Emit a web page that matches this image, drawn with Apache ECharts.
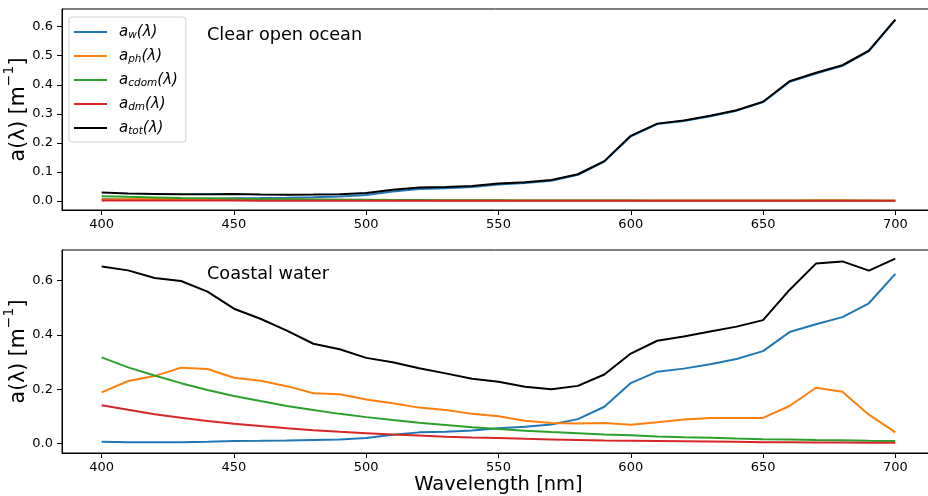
<!DOCTYPE html>
<html>
<head>
<meta charset="utf-8">
<style>
  html, body { margin: 0; padding: 0; background: #fff; }
  #chart { width: 928px; height: 496px; }
</style>
<script src="https://cdn.jsdelivr.net/npm/echarts@6/dist/echarts.min.js"></script>
</head>
<body>
<div id="chart"></div>
<script>
// Wavelength grid (nm)
const wavelengths = [400, 410, 420, 430, 440, 450, 460, 470, 480, 490, 500, 510, 520, 530, 540, 550,
  560, 570, 580, 590, 600, 610, 620, 630, 640, 650, 660, 670, 680, 690, 700];

// Pure water absorption (m^-1), shared by both water types
const aWater = [0.0066, 0.0047, 0.0045, 0.0050, 0.0064, 0.0092, 0.0098, 0.0106, 0.0127, 0.0150, 0.0204,
  0.0325, 0.0409, 0.0434, 0.0474, 0.0565, 0.0619, 0.0695, 0.0896, 0.1351, 0.2224, 0.2644, 0.2755,
  0.2916, 0.3108, 0.3400, 0.4100, 0.4390, 0.4650, 0.5160, 0.6240];

// Clear open ocean components
const oceanPh = [0.005, 0.0055, 0.006, 0.0062, 0.0064, 0.0058, 0.0052, 0.0046, 0.004, 0.0034, 0.0028,
  0.0022, 0.0018, 0.0015, 0.0013, 0.0011, 0.0009, 0.0008, 0.0008, 0.0008, 0.0008, 0.0009, 0.001,
  0.001, 0.001, 0.001, 0.0015, 0.0022, 0.002, 0.0011, 0.0004];
const oceanCdom = [0.016, 0.0138, 0.0119, 0.0102, 0.0088, 0.0076, 0.0065, 0.0056, 0.0048, 0.0042, 0.0036,
  0.0031, 0.0027, 0.0023, 0.002, 0.0017, 0.0015, 0.0013, 0.0011, 0.0009, 0.0008, 0.0007, 0.0006,
  0.0005, 0.0004, 0.0004, 0.0003, 0.0003, 0.0002, 0.0002, 0.0002];
const oceanDm = [0.0015, 0.0013, 0.0011, 0.001, 0.0009, 0.0008, 0.0007, 0.0006, 0.0005, 0.0004, 0.0004,
  0.0003, 0.0003, 0.0003, 0.0002, 0.0002, 0.0002, 0.0002, 0.0001, 0.0001, 0.0001, 0.0001, 0.0001,
  0.0001, 0.0001, 0.0001, 0.0001, 0.0, 0.0, 0.0, 0.0];
const oceanTot = [0.029, 0.025, 0.024, 0.0224, 0.0225, 0.0234, 0.0222, 0.0214, 0.022, 0.023, 0.027,
  0.0381, 0.0457, 0.0475, 0.0509, 0.0595, 0.0645, 0.0718, 0.0916, 0.1369, 0.2241, 0.2661, 0.2772,
  0.2932, 0.3123, 0.3415, 0.4119, 0.4415, 0.4672, 0.5173, 0.6246];

// Coastal water components
const coastPh = [0.188, 0.230, 0.248, 0.279, 0.274, 0.242, 0.231, 0.211, 0.185, 0.181, 0.162, 0.148,
  0.132, 0.123, 0.109, 0.100, 0.084, 0.075, 0.074, 0.075, 0.069, 0.078, 0.088, 0.094, 0.094, 0.094,
  0.138, 0.205, 0.190, 0.106, 0.041];
const coastCdom = [0.317, 0.280, 0.250, 0.222, 0.197, 0.175, 0.156, 0.138, 0.123, 0.109, 0.097, 0.086,
  0.076, 0.068, 0.060, 0.053, 0.047, 0.042, 0.038, 0.033, 0.030, 0.026, 0.023, 0.021, 0.018, 0.016,
  0.015, 0.013, 0.012, 0.010, 0.009];
const coastDm = [0.141, 0.124, 0.108, 0.095, 0.083, 0.073, 0.064, 0.056, 0.049, 0.043, 0.038, 0.033,
  0.029, 0.025, 0.022, 0.020, 0.017, 0.015, 0.013, 0.011, 0.010, 0.009, 0.008, 0.007, 0.006, 0.005,
  0.005, 0.004, 0.004, 0.003, 0.003];
const coastTot = [0.651, 0.637, 0.609, 0.598, 0.559, 0.496, 0.459, 0.415, 0.367, 0.347, 0.315, 0.299,
  0.277, 0.258, 0.238, 0.227, 0.209, 0.200, 0.212, 0.254, 0.331, 0.378, 0.394, 0.412, 0.430, 0.454,
  0.565, 0.662, 0.670, 0.636, 0.680];

// Axis tick labels
const xTicks = [400, 450, 500, 550, 600, 650, 700];
const yTicksOcean = [0.0, 0.1, 0.2, 0.3, 0.4, 0.5, 0.6];
const yTicksCoast = [0.0, 0.2, 0.4, 0.6];

const seriesNames = ['a_w', 'a_ph', 'a_cdom', 'a_dm', 'a_tot'];
const subscripts = { a_w: 'w', a_ph: 'ph', a_cdom: 'cdom', a_dm: 'dm', a_tot: 'tot' };
const colors = ['#1f77b4', '#ff7f0e', '#2ca02c', '#d62728', '#000000'];

const FONT = 'DejaVu Sans';
const pairs = arr => wavelengths.map((w, i) => [w, arr[i]]);

function lineSeries(name, data, idx, color) {
  return {
    name: name,
    type: 'line',
    xAxisIndex: idx,
    yAxisIndex: idx,
    data: pairs(data),
    symbol: 'none',
    lineStyle: { color: color, width: 2 },
    itemStyle: { color: color },
    emphasis: { disabled: true },
    animation: false,
    z: 2
  };
}

const oceanSets = [aWater, oceanPh, oceanCdom, oceanDm, oceanTot];
const coastSets = [aWater, coastPh, coastCdom, coastDm, coastTot];

const series = [];
oceanSets.forEach((d, i) => series.push(lineSeries(seriesNames[i], d, 0, colors[i])));
coastSets.forEach((d, i) => series.push(lineSeries(seriesNames[i], d, 1, colors[i])));

function xAxis(idx, named) {
  return {
    type: 'value', gridIndex: idx, min: 385, max: 715,
    splitLine: { show: false },
    axisLine: { show: true, onZero: false, lineStyle: { color: '#000', width: 1 } },
    axisTick: { show: true, length: 5, lineStyle: { color: '#000' }, customValues: xTicks },
    axisLabel: { color: '#000', fontFamily: FONT, fontSize: 13, margin: 8, customValues: xTicks },
    name: named ? 'Wavelength [nm]' : '',
    nameLocation: 'middle', nameGap: 21,
    nameTextStyle: { color: '#000', fontFamily: FONT, fontSize: 19.5 }
  };
}

function yAxis(idx, min, max, ticks) {
  return {
    type: 'value', gridIndex: idx, min: min, max: max,
    splitLine: { show: false },
    axisLine: { show: true, onZero: false, lineStyle: { color: '#000', width: 1 } },
    axisTick: { show: true, length: 5, lineStyle: { color: '#000' }, customValues: ticks },
    axisLabel: {
      color: '#000', fontFamily: FONT, fontSize: 13, margin: 9, customValues: ticks,
      formatter: v => v.toFixed(1)
    },
    name: '{n|a(λ) [m}{sup|−1}{n|]}',
    nameLocation: 'middle', nameRotate: 90, nameGap: 33, nameMoveOverlap: false,
    nameTextStyle: {
      color: '#000', fontFamily: FONT, fontSize: 20.5,
      rich: {
        n: { fontFamily: FONT, fontSize: 20.5, color: '#000', lineHeight: 27, verticalAlign: 'bottom' },
        sup: { fontFamily: FONT, fontSize: 14, color: '#000', lineHeight: 15, verticalAlign: 'top' }
      }
    }
  };
}

const option = {
  backgroundColor: '#fff',
  animation: false,
  grid: [
    { left: 62, top: 9, width: 873, height: 201, show: true, borderColor: '#000', borderWidth: 1,
      backgroundColor: 'transparent', outerBoundsMode: 'none', containLabel: false },
    { left: 62, top: 250, width: 873, height: 203, show: true, borderColor: '#000', borderWidth: 1,
      backgroundColor: 'transparent', outerBoundsMode: 'none', containLabel: false }
  ],
  xAxis: [xAxis(0, false), xAxis(1, true)],
  yAxis: [yAxis(0, -0.0315, 0.661, yTicksOcean), yAxis(1, -0.035, 0.712, yTicksCoast)],
  legend: {
    data: seriesNames,
    orient: 'vertical',
    left: 69, top: 17,
    padding: [6, 8, 5, 5],
    itemGap: 6,
    itemWidth: 33,
    itemHeight: 2,
    icon: 'rect',
    backgroundColor: 'rgba(255,255,255,0.8)',
    borderColor: '#d0d0d0',
    borderWidth: 1,
    borderRadius: 3,
    selectedMode: false,
    formatter: name => '{p| }{a|a}{s|' + subscripts[name] + '}{a|(λ)}',
    textStyle: {
      fontFamily: FONT, fontSize: 15, color: '#000',
      rich: {
        p: { width: 7, fontSize: 15, lineHeight: 18 },
        a: { fontFamily: FONT, fontStyle: 'italic', fontSize: 15, color: '#000', lineHeight: 18 },
        s: { fontFamily: FONT, fontStyle: 'italic', fontSize: 10.5, color: '#000', padding: [7, 0, 0, 0], lineHeight: 18 }
      }
    }
  },
  graphic: [
    { type: 'text', left: 207, top: 26, style: { text: 'Clear open ocean', font: '17.7px "DejaVu Sans"', fill: '#000' } },
    { type: 'text', left: 207, top: 265, style: { text: 'Coastal water', font: '17.7px "DejaVu Sans"', fill: '#000' } }
  ],
  series: series
};

const chart = echarts.init(document.getElementById('chart'), null, { renderer: 'canvas' });
chart.setOption(option);
</script>
</body>
</html>
